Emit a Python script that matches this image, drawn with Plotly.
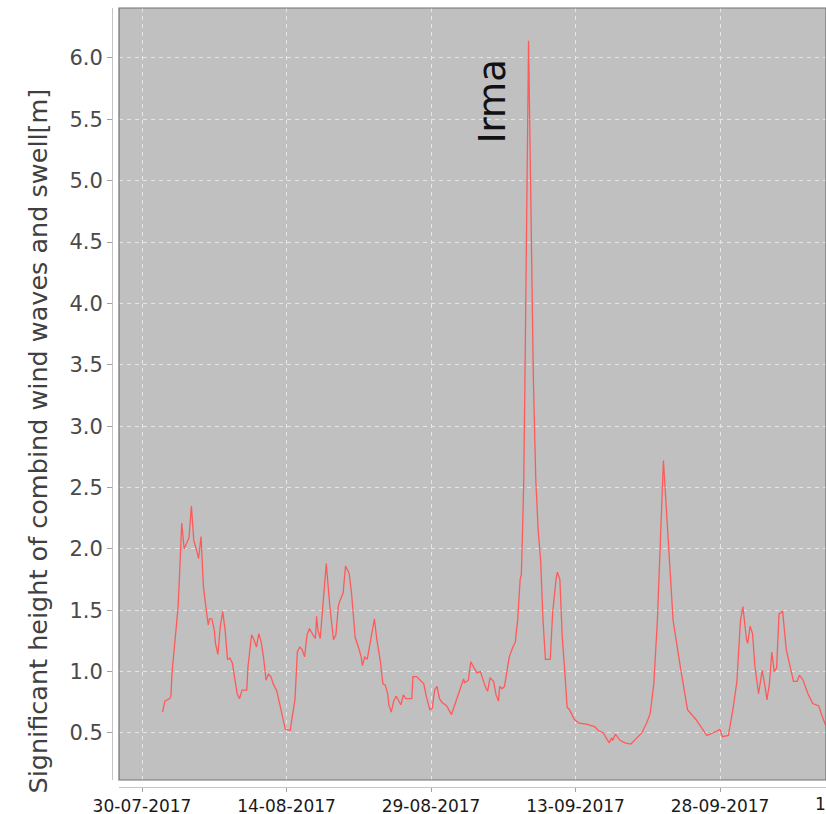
import pandas as pd
import plotly.graph_objects as go

# ---- data -------------------------------------------------------------
start = pd.Timestamp("2017-07-30 00:00")
hours = [51, 57, 69, 72, 75, 81, 90, 93, 99, 105, 111, 117, 123, 129, 135, 141, 147, 153, 159, 165,
         168, 174, 180, 183, 189, 195, 201, 207, 213, 219, 225, 231, 237, 243, 249, 261, 264, 273, 279, 285,
         291, 297, 303, 309, 315, 321, 327, 336, 345, 351, 357, 369, 375, 381, 387, 393, 399, 405, 411, 417,
         426, 432, 435, 438, 444, 447, 450, 459, 468, 477, 483, 489, 492, 501, 507, 516, 522, 531, 540, 546,
         549, 555, 561, 567, 576, 579, 585, 594, 600, 606, 612, 615, 621, 627, 633, 639, 645, 651, 657, 672,
         675, 684, 693, 702, 708, 717, 723, 729, 735, 741, 747, 759, 771, 780, 792, 801, 804, 813, 819, 825,
         834, 843, 846, 855, 861, 867, 876, 882, 888, 891, 897, 903, 909, 915, 924, 930, 933, 936, 942, 945,
         948, 951, 954, 963, 975, 981, 987, 993, 999, 1005, 1017, 1023, 1032, 1035, 1041, 1047, 1053, 1059, 1065, 1077,
         1089, 1110, 1128, 1137, 1149, 1155, 1164, 1170, 1173, 1179, 1191, 1203, 1218, 1233, 1245, 1257, 1266, 1275, 1281, 1284,
         1299, 1323, 1341, 1359, 1380, 1407, 1422, 1440, 1446, 1461, 1464, 1473, 1482, 1491, 1497, 1506, 1509, 1515, 1521, 1527,
         1536, 1545, 1551, 1557, 1563, 1569, 1575, 1581, 1587, 1596, 1605, 1614, 1623, 1632, 1638, 1647, 1659, 1671, 1686, 1692,
         1701, 1710]
heights = [0.67, 0.76, 0.78, 0.80, 1.00, 1.20, 1.53, 1.75, 2.21, 2.00, 2.05, 2.09, 2.35, 2.07, 2.00, 1.92, 2.10, 1.69, 1.53, 1.38,
           1.43, 1.43, 1.34, 1.23, 1.14, 1.37, 1.49, 1.34, 1.10, 1.11, 1.07, 0.96, 0.82, 0.78, 0.85, 0.85, 1.04, 1.30, 1.26, 1.20,
           1.31, 1.24, 1.11, 0.93, 0.98, 0.96, 0.90, 0.84, 0.71, 0.63, 0.53, 0.52, 0.63, 0.77, 1.16, 1.20, 1.18, 1.12, 1.30, 1.35,
           1.30, 1.27, 1.45, 1.34, 1.27, 1.39, 1.50, 1.88, 1.53, 1.26, 1.30, 1.53, 1.57, 1.64, 1.86, 1.80, 1.64, 1.28, 1.19, 1.12,
           1.05, 1.12, 1.10, 1.22, 1.37, 1.43, 1.26, 1.08, 0.90, 0.89, 0.82, 0.73, 0.67, 0.76, 0.80, 0.77, 0.73, 0.81, 0.78, 0.78,
           0.96, 0.96, 0.93, 0.90, 0.80, 0.69, 0.70, 0.85, 0.88, 0.78, 0.75, 0.72, 0.65, 0.74, 0.85, 0.94, 0.91, 0.93, 1.08, 1.04,
           0.99, 1.00, 0.97, 0.88, 0.84, 0.95, 0.92, 0.81, 0.76, 0.88, 0.86, 0.88, 1.00, 1.12, 1.20, 1.24, 1.34, 1.42, 1.75, 1.79,
           2.15, 2.56, 3.38, 6.14, 3.38, 2.56, 2.15, 1.91, 1.42, 1.10, 1.10, 1.48, 1.77, 1.81, 1.75, 1.28, 1.01, 0.71, 0.69, 0.61,
           0.58, 0.57, 0.55, 0.52, 0.50, 0.47, 0.42, 0.46, 0.44, 0.49, 0.44, 0.42, 0.41, 0.46, 0.50, 0.58, 0.66, 0.90, 1.26, 1.42,
           2.72, 1.42, 1.04, 0.69, 0.61, 0.48, 0.50, 0.53, 0.47, 0.48, 0.54, 0.71, 0.92, 1.42, 1.53, 1.26, 1.23, 1.37, 1.31, 1.04,
           0.82, 1.01, 0.90, 0.77, 0.90, 1.16, 1.00, 1.03, 1.47, 1.49, 1.18, 1.04, 0.92, 0.92, 0.97, 0.93, 0.82, 0.74, 0.72, 0.66,
           0.58, 0.52]

tick_dates = ["2017-07-30", "2017-08-14", "2017-08-29", "2017-09-13", "2017-09-28"]
tick_labels = ["30-07-2017", "14-08-2017", "29-08-2017", "13-09-2017", "28-09-2017"]
y_ticks = [0.5, 1.0, 1.5, 2.0, 2.5, 3.0, 3.5, 4.0, 4.5, 5.0, 5.5, 6.0]
y_title = "Significant height of combind wind waves and swell[m]"
storm_label = "Irma"
storm_label_time = "2017-09-05 08:00"
storm_label_value = 5.66
offscreen_tick_label = "13-10-2017"

times = [start + pd.Timedelta(hours=h) for h in hours]

# ---- figure -----------------------------------------------------------
W, H = 826, 814
fig = go.Figure()
fig.add_trace(go.Scatter(x=times, y=heights, mode="lines",
                         line=dict(color="#ff5a5a", width=1.3), showlegend=False,
                         hoverinfo="skip"))

font = "DejaVu Sans"
fig.update_layout(
    template="none",
    width=W, height=H,
    margin=dict(l=0, r=0, t=0, b=0, autoexpand=False),
    paper_bgcolor="white",
    plot_bgcolor="#c0c0c0",
    font=dict(family=font),
    xaxis=dict(
        domain=[119 / W, 1.0],
        anchor="free", position=27 / H,
        automargin=False,
        type="date",
        range=["2017-07-27 14:40", "2017-10-09 00:00"],
        tickvals=tick_dates, ticktext=tick_labels,
        tickfont=dict(size=17, color="#1a1a1a", family=font),
        ticks="outside", ticklen=4, tickcolor="#a0a0a0", tickwidth=1,
        showline=True, linecolor="#c4c4c4", linewidth=1,
        showgrid=True, gridcolor="#e6e6e6", griddash="4px,4px", gridwidth=1,
        zeroline=False,
    ),
    yaxis=dict(
        domain=[34 / H, 806 / H],
        anchor="free", position=112 / W,
        automargin=False,
        range=[0.117, 6.407],
        tickvals=y_ticks, ticktext=[f"{v:.1f}" for v in y_ticks],
        tickfont=dict(size=21, color="#4a4a4a", family=font),
        ticks="outside", ticklen=5, tickcolor="#a0a0a0", tickwidth=1,
        showline=True, linecolor="#c4c4c4", linewidth=1,
        showgrid=True, gridcolor="#e6e6e6", griddash="4px,4px", gridwidth=1,
        zeroline=False,
    ),
)

# plot-area border
fig.add_shape(type="rect", xref="x domain", yref="y domain", x0=0, x1=1, y0=0, y1=1,
              line=dict(color="#707070", width=1.2), fillcolor="rgba(0,0,0,0)", layer="above")

# y-axis title
fig.add_annotation(text=y_title, xref="paper", yref="paper", x=37.5 / W, y=(H - 441) / H,
                   textangle=-90, showarrow=False, xanchor="center", yanchor="middle",
                   font=dict(size=25.5, color="#404040", family=font))

# storm label
fig.add_annotation(text=storm_label, xref="x", yref="y", x=storm_label_time, y=storm_label_value,
                   xshift=-9, yshift=-2,
                   textangle=-90, showarrow=False, xanchor="center", yanchor="middle",
                   font=dict(size=37, color="#111111", family=font))

# partially visible tick label at the right edge
fig.add_annotation(text=offscreen_tick_label, xref="paper", yref="paper", x=864 / W, y=(H - 804) / H,
                   showarrow=False, xanchor="center", yanchor="middle",
                   font=dict(size=17, color="#1a1a1a", family=font))

fig.write_html("out.html")
